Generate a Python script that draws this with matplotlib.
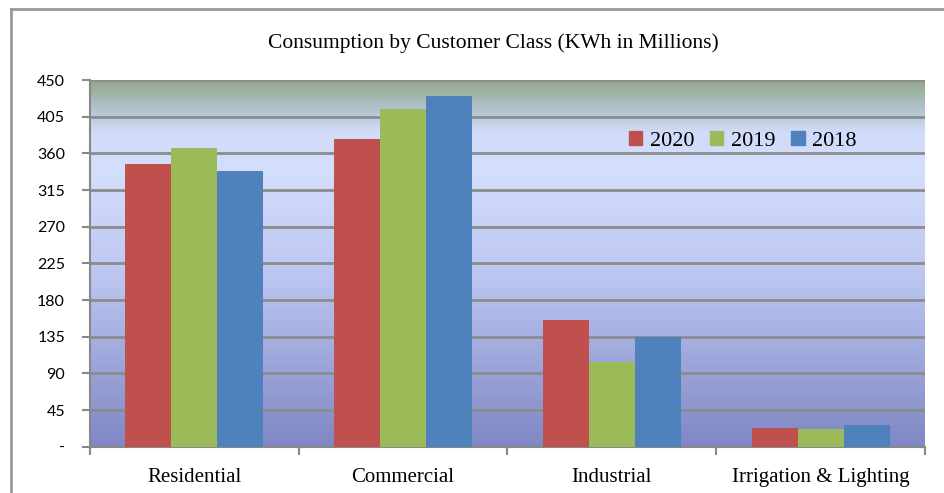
import numpy as np
import matplotlib.pyplot as plt
from matplotlib.colors import LinearSegmentedColormap
from matplotlib.lines import Line2D
from matplotlib.patches import Patch

categories = ["Residential", "Commercial", "Industrial", "Irrigation & Lighting"]
years = ["2020", "2019", "2018"]
values_2020 = [347, 377, 156, 23]
values_2019 = [366, 415, 104, 22]
values_2018 = [338, 430, 135, 27]
bar_colors = ["#c0504d", "#9bbb59", "#4f81bd"]
yticks = [0, 45, 90, 135, 180, 225, 270, 315, 360, 405, 450]
ytick_labels = ["-"] + [str(v) for v in yticks[1:]]

fig = plt.figure(figsize=(9.45, 4.93), dpi=100)
ax = fig.add_axes([90 / 945, 1 - 446.7 / 493, 835 / 945, 366.7 / 493])

# plot-area fill: green-grey at top, pale blue band, darkening to blue-violet at bottom
stops = [
    (0.0, (0.50, 0.53, 0.77)),
    (0.45, (0.73, 0.77, 0.94)),
    (0.75, (0.83, 0.87, 0.99)),
    (0.86, (0.82, 0.86, 0.98)),
    (0.92, (0.70, 0.77, 0.81)),
    (1.0, (0.57, 0.66, 0.55)),
]
cmap = LinearSegmentedColormap.from_list("plotfill", stops)
grad = np.linspace(0, 1, 256).reshape(-1, 1)
ax.imshow(grad, cmap=cmap, origin="lower", aspect="auto",
          extent=[-0.5, 3.5, 0, 450], zorder=0)

x = np.arange(len(categories))
width = 0.22
series = [values_2020, values_2019, values_2018]
for i, (vals, col) in enumerate(zip(series, bar_colors)):
    ax.bar(x + (i - 1) * width, vals, width, color=col, zorder=3, label=years[i])

ax.set_xlim(-0.5, 3.5)
ax.set_ylim(0, 450)
ax.set_yticks(yticks)
ax.set_yticklabels(ytick_labels, fontsize=11.5, family="Lato")
ax.yaxis.grid(True, color="#8c8c8c", linewidth=2, zorder=1)
ax.set_axisbelow(True)

ax.set_xticks([-0.5, 0.5, 1.5, 2.5, 3.5])
ax.set_xticklabels([])
ax.set_xticks(x, minor=True)
ax.set_xticklabels(categories, minor=True, fontsize=15, family="Liberation Serif")
ax.tick_params(axis="x", which="minor", length=0, pad=15)
ax.tick_params(axis="x", which="major", length=6, width=1.5, color="#888888")
ax.tick_params(axis="y", length=6, width=1.5, color="#888888", pad=12)

for s in ["top", "right"]:
    ax.spines[s].set_visible(False)
for s in ["left", "bottom"]:
    ax.spines[s].set_color("#888888")
    ax.spines[s].set_linewidth(1.5)

handles = [Patch(color=c) for c in bar_colors]
ax.legend(handles, years, loc="center", bbox_to_anchor=(0.782, 0.834),
          ncol=3, frameon=False, prop={"family": "Liberation Serif", "size": 16},
          handlelength=0.6, handleheight=0.6, handletextpad=0.35, columnspacing=0.7)

fig.text(0.522, 1 - 43 / 493, "Consumption by Customer Class (KWh in Millions)",
         ha="center", va="center", fontsize=15.5, family="Liberation Serif")

# outer chart frame
fig.add_artist(Line2D([11 / 945, 11 / 945], [0, 1 - 9 / 493], color="#999999", lw=2))
fig.add_artist(Line2D([11 / 945, 1], [1 - 9 / 493, 1 - 9 / 493], color="#999999", lw=2))

fig.savefig("out.png", dpi=100)
